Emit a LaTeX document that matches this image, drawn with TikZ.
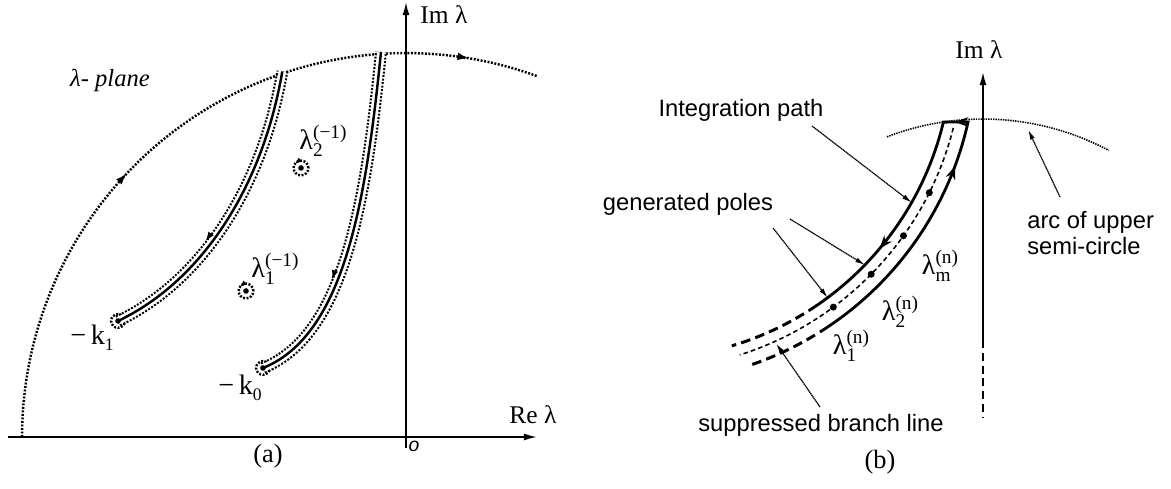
\documentclass[tikz,border=0pt]{standalone}
\usepackage{fontspec}
\setmainfont{Liberation Serif}
\setsansfont{Liberation Sans}
\usetikzlibrary{arrows.meta,calc,decorations.markings}
\tikzset{
  axis/.style={line width=1pt,-{Latex[length=7.5pt,width=4pt]}},
  dotarc/.style={line width=1.4pt,dash pattern=on 1.1pt off 0.9pt},
  edgedots/.style={line width=6.8pt,dash pattern=on 1.1pt off 0.9pt},
  edgeclear/.style={line width=4.4pt,white},
  cutline/.style={line width=1.4pt},
  pathline/.style={line width=1.6pt},
  supline/.style={line width=1.7pt,dash pattern=on 5.5pt off 3pt},
  branch/.style={line width=0.9pt,dash pattern=on 2.6pt off 1.8pt},
  pointer/.style={line width=0.7pt,dash pattern=on 0.8pt off 0.3pt,-{Latex[length=5.5pt,width=2.8pt]}},
  looptip/.style={line width=1pt,-{Latex[length=3.4pt,width=3.2pt]}},
  serif/.style={font=\fontsize{14.5}{17}\selectfont,inner sep=0pt},
  lamlbl/.style={font=\fontsize{16}{18}\selectfont,inner sep=0pt},
  sans/.style={font=\sffamily\fontsize{13.5}{14.7}\selectfont,inner sep=0pt},
}
\newcommand{\lamsym}[2]{λ{\fontsize{11}{11}\selectfont\rlap{\raisebox{-4pt}{#1}}\raisebox{6.2pt}{#2}}}
\newcommand{\kidx}[1]{{\fontsize{10}{10}\selectfont\raisebox{-3.5pt}{#1}}}

\begin{document}
\begin{tikzpicture}[x=0.02cm,y=0.02cm]
  \useasboundingbox (0,0) rectangle (1171,489);
  % ---- (a) ----
  \coordinate (oA) at (406,52);
  \coordinate (reL) at (8,52);  \coordinate (reR) at (537,52);
  \coordinate (imL) at (406,41); \coordinate (imU) at (406,487);
  \coordinate (k1) at (118,168); \coordinate (c1a) at (200,207); \coordinate (c1b) at (262,299); \coordinate (t1) at (282.3,417.5);
  \coordinate (k0) at (263,121); \coordinate (c0a) at (345,154); \coordinate (c0b) at (366,289); \coordinate (t0) at (381,437);
  \coordinate (p1) at (246,198); \coordinate (p2) at (301,321);
  \draw[axis] (reL) -- (reR);
  \draw[axis] (imL) -- (imU);
  \draw[dotarc,postaction={decorate},decoration={markings,
      mark=at position 0.394 with {\arrow{Latex[length=6.5pt,width=4.4pt]}},
      mark=at position 0.904 with {\arrow{Latex[length=6.5pt,width=4.4pt]}}}]
    ($(oA)+(180:7.68cm)$) arc[start angle=180,end angle=70,radius=7.68cm];
  \foreach \k/\ca/\cb/\t/\pos in {k1/c1a/c1b/t1/0.42, k0/c0a/c0b/t0/0.36}{
    \draw[dotarc] (\k) circle[radius=3.9pt];
    \draw[edgedots] (\k) .. controls (\ca) and (\cb) .. (\t);
    \draw[edgeclear] (\k) .. controls (\ca) and (\cb) .. (\t);
    \draw[cutline,postaction={decorate},decoration={markings,mark=at position \pos with
        {\begin{scope}[yshift=3.3pt]\arrow{Latex[reversed,length=5.5pt,width=3.8pt]}\end{scope}}}]
      (\k) .. controls (\ca) and (\cb) .. (\t);
    \fill (\k) circle[radius=1.6pt];
  }
  \foreach \p in {p1,p2}{
    \draw[dotarc] (\p) circle[radius=4.2pt];
    \draw[looptip] ($(\p)+(112:4.2pt)$) -- ($(\p)+(140:4.2pt)$);
    \fill (\p) circle[radius=1.6pt];
  }
  \node[lamlbl] (lamTwo) at (323,348) {\lamsym{2}{(−1)}};
  \node[lamlbl] (lamOne) at (275,220) {\lamsym{1}{(−1)}};
  \node[lamlbl] (kOne) at (92,151) {−\,k\kidx{1}};
  \node[lamlbl] (kZero) at (240,101) {−\,k\kidx{0}};
  \node[serif,font=\itshape\fontsize{14}{15}\selectfont] (planeA) at (110,409) {λ- plane};
  \node[serif] (imA) at (444,474) {Im λ};
  \node[serif] (reA) at (533,74) {Re λ};
  \node[inner sep=0pt,font=\sffamily\itshape\fontsize{11}{11}\selectfont] (oLbl) at (414,43) {o};
  \node[serif,font=\fontsize{15}{17}\selectfont] (capA) at (268,33) {(a)};
  % ---- (b) ----
  \coordinate (cB) at (643,439);
  \coordinate (semiB) at (983,102);
  \coordinate (imBl) at (983,149); \coordinate (imBu) at (983,417); \coordinate (imBd) at (983,72);
  \draw[axis] (imBl) -- (imBu);
  \draw[line width=1.4pt,dash pattern=on 4.5pt off 2.8pt] (imBl) -- (imBd);
  \draw[line width=0.9pt,dash pattern=on 0.8pt off 0.6pt]
    ($(semiB)+(111:5.36cm)$) arc[start angle=111,end angle=62,radius=5.36cm];
  \draw[branch] ($(cB)+(-14.1:6.4cm)$) arc[start angle=-14.1,end angle=-72.4,radius=6.4cm];
  \foreach \a in {-26.5,-35.5,-44.5,-53.5}
    \fill ($(cB)+(\a:6.4cm)$) circle[radius=2pt];
  \draw[pathline,postaction={decorate},decoration={markings,
      mark=at position 0.414 with {\arrow{Stealth[length=7.5pt,width=5.5pt]}},
      mark=at position 0.526 with {\arrow{Stealth[length=7.5pt,width=5.5pt]}},
      mark=at position 0.82 with {\arrow{Stealth[length=7.5pt,width=5.5pt]}}}]
    ($(cB)+(-57.9:6.66cm)$) arc[start angle=-57.9,end angle=-12.5,radius=6.66cm]
    -- ($(cB)+(-13.5:6.18cm)$) arc[start angle=-13.5,end angle=-57.6,radius=6.18cm];
  \draw[supline] ($(cB)+(-58.6:6.18cm)$) arc[start angle=-58.6,end angle=-73.3,radius=6.18cm];
  \draw[supline] ($(cB)+(-58.9:6.66cm)$) arc[start angle=-58.9,end angle=-71.7,radius=6.66cm];
  \coordinate (ipTip) at ($(cB)+(-29.6:6.18cm)$);
  \coordinate (gpTipA) at ($(cB)+(-44.1:6.18cm)$);
  \coordinate (gpTipB) at ($(cB)+(-53.3:6.18cm)$);
  \coordinate (sbTip) at ($(cB)+(-65.6:6.45cm)$);
  \coordinate (arcTip) at ($(semiB)+(80:5.22cm)$);
  \coordinate (ipTail) at (812,363);
  \coordinate (gpTailA) at (790,270);
  \coordinate (gpTailB) at (773,261);
  \coordinate (sbTail) at (820,82);
  \coordinate (arcTail) at (1060,292);
  \draw[pointer] (ipTail) -- (ipTip);
  \draw[pointer] (gpTailA) -- (gpTipA);
  \draw[pointer] (gpTailB) -- (gpTipB);
  \draw[pointer] (sbTail) -- (sbTip);
  \draw[pointer] (arcTail) -- (arcTip);
  \node[sans] (ipLbl) at (741,379) {Integration path};
  \node[sans] (gpLbl) at (688,285) {generated poles};
  \node[sans] (sbLbl) at (821,64) {suppressed branch line};
  \node[sans,align=left,anchor=north west] (arcLbl) at (1027,278) {arc of upper\\semi-circle};
  \node[lamlbl] (lamM) at (940,223) {\lamsym{m}{(n)}};
  \node[lamlbl] (lamN2) at (900,177) {\lamsym{2}{(n)}};
  \node[lamlbl] (lamN1) at (851,143) {\lamsym{1}{(n)}};
  \node[serif] (imBLbl) at (979,439) {Im λ};
  \node[serif,font=\fontsize{15}{17}\selectfont] (capB) at (880,27) {(b)};
\end{tikzpicture}
\end{document}
